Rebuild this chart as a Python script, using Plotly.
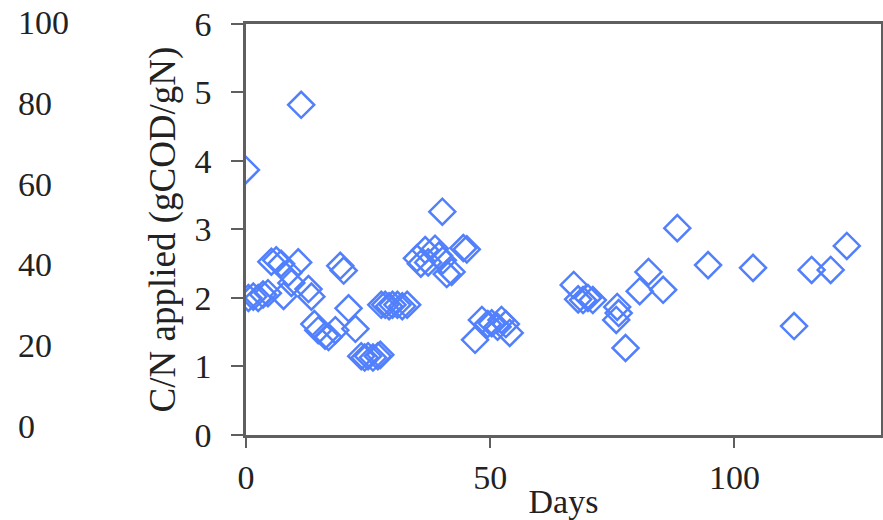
import plotly.graph_objects as go

# Applied C/N ratio over the operating period
days = [0, 0.5, 1.5, 2.5, 3.5, 4.5, 5.2, 6.2, 7.2, 7.7, 8.7, 9.3, 10.7, 11.3,
        12.8, 13.4, 14.0, 14.8, 16.2, 16.9, 18.3, 19.3, 20.0, 21.0, 22.4,
        23.6, 24.3, 25.0, 26.0, 27.0, 27.5, 27.7, 28.5, 29.3, 30.0, 31.0, 32.0, 33.0,
        35.0, 35.8, 36.7, 37.3, 38.7, 39.5, 40.2, 40.3, 41.1, 42.1, 44.5, 45.2,
        46.9, 48.3, 49.5, 50.3, 51.5, 52.3, 53.2, 54.0,
        67.1, 68.0, 69.0, 70.0, 71.0, 75.8, 76.0, 76.3, 77.7, 80.6, 82.4, 85.4,
        88.3, 94.6, 103.8, 112.2, 115.8, 119.7, 123.0]
cn_applied = [3.87, 2.00, 2.02, 2.00, 2.05, 2.07, 2.53, 2.55, 2.50, 2.03, 2.37, 2.22, 2.52, 4.82,
              2.13, 2.02, 1.62, 1.53, 1.45, 1.43, 1.53, 2.47, 2.40, 1.85, 1.55,
              1.15, 1.13, 1.15, 1.13, 1.15, 1.17, 1.90, 1.90, 1.88, 1.90, 1.90, 1.88, 1.90,
              2.58, 2.50, 2.70, 2.52, 2.72, 2.62, 3.26, 2.55, 2.35, 2.38, 2.73, 2.71,
              1.39, 1.68, 1.62, 1.63, 1.58, 1.68, 1.62, 1.49,
              2.19, 1.98, 1.97, 2.00, 1.97, 1.68, 1.87, 1.78, 1.27, 2.10, 2.38, 2.12,
              3.02, 2.48, 2.44, 1.59, 2.41, 2.41, 2.76]

x_ticks = [0, 50, 100]
y_ticks = [0, 1, 2, 3, 4, 5, 6]
y2_ticks = [0, 20, 40, 60, 80, 100]

font_family = "Liberation Serif"
axis_color = "#5f5f5f"
text_color = "#222222"
tick_size = 34

fig = go.Figure()
# empty trace that carries the secondary 0-100 scale (drawn first, underneath)
fig.add_trace(go.Scatter(x=[], y=[], xaxis="x", yaxis="y2", showlegend=False))
fig.add_trace(go.Scatter(
    x=days, y=cn_applied, mode="markers",
    marker=dict(symbol="diamond-open", size=20, color="#5280fc",
                line=dict(width=2.5, color="#5280fc")),
    showlegend=False, hoverinfo="x+y",
))

fig.update_layout(
    width=883, height=520,
    margin=dict(l=17, r=2, t=14, b=85, autoexpand=False),
    paper_bgcolor="white", plot_bgcolor="rgba(0,0,0,0)",
    font=dict(family=font_family, color=text_color, size=tick_size),
    xaxis=dict(
        domain=[0.2650, 1], range=[0, 130],
        tickvals=x_ticks, ticktext=[str(v) for v in x_ticks],
        ticks="outside", ticklen=10, tickwidth=2, tickcolor=axis_color,
        showline=True, linewidth=2.5, linecolor=axis_color, mirror=True,
        showgrid=False, zeroline=False,
        tickfont=dict(size=tick_size),
        title=dict(text="Days", font=dict(size=tick_size), standoff=0),
    ),
    yaxis=dict(
        domain=[0, 0.97625], range=[0, 6],
        tickvals=y_ticks, ticktext=[str(v) for v in y_ticks],
        ticks="outside", ticklen=12, tickwidth=2, tickcolor=axis_color,
        showline=True, linewidth=2.5, linecolor=axis_color, mirror=True,
        showgrid=False, zeroline=False,
        ticklabelstandoff=13,
        tickfont=dict(size=tick_size),
        title=dict(text="C/N applied (gCOD/gN)", font=dict(size=37), standoff=8),
    ),
    yaxis2=dict(
        domain=[0, 1], range=[-2.23, 102.0], anchor="free", position=0, side="right",
        tickvals=y2_ticks, ticktext=[str(v) for v in y2_ticks],
        ticks="", showline=False, showgrid=False, zeroline=False,
        tickfont=dict(size=tick_size),
    ),
)

fig.write_html("out.html")
